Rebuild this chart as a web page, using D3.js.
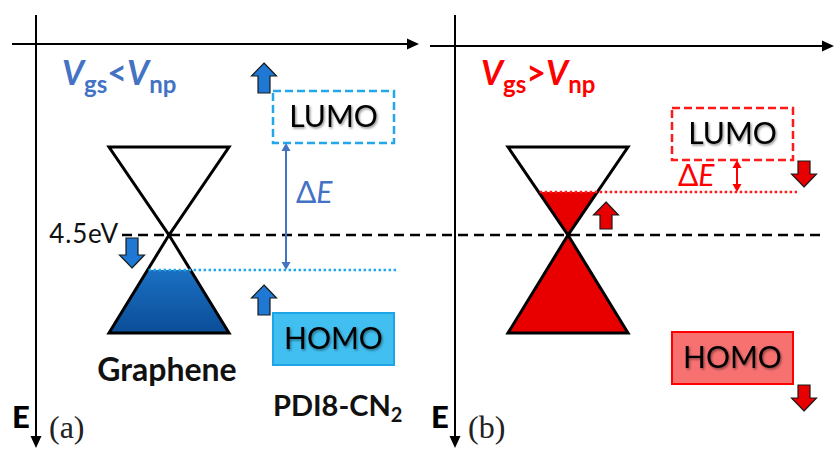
<!DOCTYPE html>
<html>
<head>
<meta charset="utf-8">
<script src="https://cdn.jsdelivr.net/npm/d3@7"></script>
<style>
  html, body { margin: 0; padding: 0; background: #fff; }
  svg { display: block; }
</style>
</head>
<body>
<script>
// Band alignment of graphene and PDI8-CN2 under two gate-voltage regimes.
const panels = ["a", "b"];
const panelTags = ["(a)", "(b)"];
const gateRelations = ["<", ">"];          // Vgs relative to Vnp
const diracPoint = 4.5;                    // eV, graphene neutrality point
const referenceLabel = "4.5eV";
const fermiLevels = [4.85, 4.07];          // eV, graphene Fermi level
const lumoLevels = [3.58, 3.75];           // eV, PDI8-CN2 LUMO edge
const homoLevels = [5.28, 5.47];           // eV, PDI8-CN2 HOMO edge
const grapheneShift = ["down", "up"];
const lumoShift = ["up", "down"];
const homoShift = ["up", "down"];
const coneEnergies = [3.62, 5.48];         // eV, drawn extent of the Dirac cone
const materialNames = ["Graphene", "PDI8-CN"];
const materialSub = "2";

const W = 835, H = 449;
const svg = d3.select("body").append("svg").attr("width", W).attr("height", H);

// energy axis points downward
const y = d3.scaleLinear().domain([3, 6]).range([85, 385]);
const shiftX = d3.scaleOrdinal().domain(panels).range([0, 399]);
const axisX = d3.scaleOrdinal().domain(panels).range([36, 455]);
const axisY = d3.scaleOrdinal().domain(panels).range([44, 46]);
const axisSpan = d3.scaleOrdinal().domain(panels).range([[12, 419], [430, 834]]);

const theme = {
  a: { text: "#4472c4", line: "#4472c4", box: "#22a7ea", homoFill: "#41bff0", homoStroke: "#1ea5e8",
       arrow: "#1f79d4", dots: "#22a7ea", fill: "url(#blueFill)" },
  b: { text: "#ff0000", line: "#ff0000", box: "#ff1a1a", homoFill: "#f87171", homoStroke: "#ff0000",
       arrow: "#e80000", dots: "#ff1a1a", fill: "#e80000" }
};

const defs = svg.append("defs");
const grad = defs.append("linearGradient").attr("id", "blueFill")
  .attr("x1", 0).attr("y1", 0).attr("x2", 0).attr("y2", 1);
grad.append("stop").attr("offset", "0%").attr("stop-color", "#2383da");
grad.append("stop").attr("offset", "100%").attr("stop-color", "#0b4d98");
const shadow = defs.append("filter").attr("id", "soft").attr("x", "-20%").attr("y", "-30%")
  .attr("width", "140%").attr("height", "160%");
shadow.append("feDropShadow").attr("dx", 1.2).attr("dy", 1.5).attr("stdDeviation", 1.2)
  .attr("flood-color", "#000").attr("flood-opacity", 0.45);

const sans = "Lato, 'Open Sans', sans-serif";

// block arrow pointing up or down, spanning y0..y1
function blockArrow(g, cx, y0, y1, dir, color) {
  const w = 25, sw = 12, hh = 13;
  let pts;
  if (dir === "up") {
    pts = [[cx, y0], [cx + w / 2, y0 + hh], [cx + sw / 2, y0 + hh], [cx + sw / 2, y1],
           [cx - sw / 2, y1], [cx - sw / 2, y0 + hh], [cx - w / 2, y0 + hh]];
  } else {
    pts = [[cx, y1], [cx + w / 2, y1 - hh], [cx + sw / 2, y1 - hh], [cx + sw / 2, y0],
           [cx - sw / 2, y0], [cx - sw / 2, y1 - hh], [cx - w / 2, y1 - hh]];
  }
  g.append("path").attr("d", d3.line()(pts) + "Z")
    .attr("fill", color).attr("stroke", "#1a1a1a").attr("stroke-width", 1.2)
    .attr("stroke-linejoin", "miter");
}

// thin double-headed arrow between two energies
function spanArrow(g, x, ya, yb, color) {
  const hl = 8, hw = 4.5;
  g.append("line").attr("x1", x).attr("x2", x).attr("y1", ya + 2).attr("y2", yb - 2)
    .attr("stroke", color).attr("stroke-width", 2);
  g.append("path").attr("d", d3.line()([[x, ya], [x - hw, ya + hl], [x + hw, ya + hl]]) + "Z").attr("fill", color);
  g.append("path").attr("d", d3.line()([[x, yb], [x - hw, yb - hl], [x + hw, yb - hl]]) + "Z").attr("fill", color);
}

// axes
panels.forEach((p, i) => {
  const ax = axisX(p), ay = axisY(p), [xs, xe] = axisSpan(p);
  svg.append("line").attr("x1", xs).attr("x2", xe - 10).attr("y1", ay).attr("y2", ay)
    .attr("stroke", "#000").attr("stroke-width", 2);
  svg.append("path").attr("d", d3.line()([[xe, ay], [xe - 12, ay - 5.5], [xe - 12, ay + 5.5]]) + "Z").attr("fill", "#000");
  svg.append("line").attr("x1", ax).attr("x2", ax).attr("y1", 15).attr("y2", 437)
    .attr("stroke", "#000").attr("stroke-width", 2);
  svg.append("path").attr("d", d3.line()([[ax, 448], [ax - 5.5, 436], [ax + 5.5, 436]]) + "Z").attr("fill", "#000");

  svg.append("text").attr("x", ax - 24).attr("y", 428).attr("font-family", sans)
    .attr("font-weight", 900).attr("font-size", 31).text("E");
  svg.append("text").attr("x", ax + 13).attr("y", 438)
    .attr("font-family", "'Liberation Serif', 'DejaVu Serif', serif")
    .attr("font-size", 32).attr("fill", "#222").text(panelTags[i]);
});

// neutrality-point reference line
svg.append("line").attr("x1", 122).attr("x2", 820).attr("y1", y(diracPoint)).attr("y2", y(diracPoint))
  .attr("stroke", "#000").attr("stroke-width", 2.5).attr("stroke-dasharray", "10,6");
svg.append("text").attr("x", 119).attr("y", y(diracPoint) + 8).attr("text-anchor", "end")
  .attr("font-family", sans).attr("font-size", 26).attr("letter-spacing", 0.8).attr("fill", "#111")
  .text(referenceLabel);

panels.forEach((p, i) => {
  const t = theme[p];
  const g = svg.append("g").attr("transform", `translate(${shiftX(p)},0)`);
  const ax = axisX(p) - shiftX(p);

  // gate condition label
  const cond = g.append("text").attr("x", ax + 26).attr("y", 85)
    .attr("font-family", sans).attr("font-weight", 700).attr("fill", t.text).attr("font-size", 34);
  cond.append("tspan").attr("font-style", "italic").text("V");
  cond.append("tspan").attr("font-size", 24).attr("dy", 8).text("gs");
  cond.append("tspan").attr("dy", -8).text(gateRelations[i]);
  cond.append("tspan").attr("font-style", "italic").text("V");
  cond.append("tspan").attr("font-size", 24).attr("dy", 8).text("np");

  // Dirac cone
  const cx = 169, hw = 60;
  const yTop = y(coneEnergies[0]), yD = y(diracPoint), yBot = y(coneEnergies[1]);
  const upper = [[cx - hw, yTop], [cx + hw, yTop], [cx, yD]];
  const lower = [[cx, yD], [cx - hw, yBot], [cx + hw, yBot]];
  const yF = y(fermiLevels[i]);
  const clipId = "fill-" + p;
  defs.append("clipPath").attr("id", clipId).append("rect")
    .attr("x", cx - hw - 5).attr("y", yF).attr("width", 2 * hw + 10).attr("height", yBot - yF + 5);
  const filled = g.append("g").attr("clip-path", `url(#${clipId})`);
  [upper, lower].forEach(tri => {
    filled.append("path").attr("d", d3.line()(tri) + "Z").attr("fill", t.fill);
  });
  [upper, lower].forEach(tri => {
    g.append("path").attr("d", d3.line()(tri) + "Z").attr("fill", "none")
      .attr("stroke", "#000").attr("stroke-width", 3).attr("stroke-linejoin", "miter");
  });

  // Fermi level, running out to the molecular levels
  const halfAtF = hw * Math.abs(yF - yD) / Math.abs((yF > yD ? yBot : yTop) - yD);
  const boxL = 273, boxW = 121, boxH = 52;
  g.append("line").attr("x1", cx - halfAtF + 1).attr("x2", boxL + boxW + 4).attr("y1", yF).attr("y2", yF)
    .attr("stroke", t.dots).attr("stroke-width", 2.5).attr("stroke-dasharray", "2.5,2.5");

  // LUMO (dashed outline) and HOMO (filled) boxes
  const yL = y(lumoLevels[i]), yH = y(homoLevels[i]);
  g.append("rect").attr("x", boxL).attr("y", yL - boxH).attr("width", boxW).attr("height", boxH)
    .attr("fill", "#fff").attr("stroke", t.box).attr("stroke-width", 2.5).attr("stroke-dasharray", "8,4");
  g.append("text").attr("x", boxL + boxW / 2).attr("y", yL - boxH / 2 + 10).attr("text-anchor", "middle")
    .attr("font-family", sans).attr("font-size", 30).attr("fill", "#000").attr("filter", "url(#soft)").text("LUMO");
  g.append("rect").attr("x", boxL).attr("y", yH).attr("width", boxW).attr("height", boxH)
    .attr("fill", t.homoFill).attr("stroke", t.homoStroke).attr("stroke-width", 2);
  g.append("text").attr("x", boxL + boxW / 2).attr("y", yH + boxH / 2 + 10).attr("text-anchor", "middle")
    .attr("font-family", sans).attr("font-size", 30).attr("fill", "#000").attr("filter", "url(#soft)").text("HOMO");

  // energy offset between LUMO and Fermi level
  const dx = i === 0 ? 286 : 338;
  spanArrow(g, dx, yL, yF, t.line);
  const de = g.append("text").attr("font-family", sans).attr("font-size", 30).attr("fill", t.text)
    .attr("x", i === 0 ? 296 : 279).attr("y", i === 0 ? 203 : 186);
  de.append("tspan").text("\u0394");
  de.append("tspan").attr("font-style", "italic").text("E");

  // shift directions
  if (grapheneShift[i] === "down") blockArrow(g, cx - 37, yF - 32, yF - 2, "down", t.arrow);
  else blockArrow(g, cx + 38, yF + 10, yF + 37, "up", t.arrow);
  [[lumoShift[i], yL - boxH, yL], [homoShift[i], yH, yH + boxH]].forEach(([dir, bt, bb]) => {
    if (dir === "up") blockArrow(g, boxL - 9, bt - 28, bt + 2, "up", t.arrow);
    else blockArrow(g, boxL + boxW + 11, bb + 1, bb + 27, "down", t.arrow);
  });
});

// material names
svg.append("text").attr("x", 167).attr("y", 381).attr("text-anchor", "middle")
  .attr("font-family", sans).attr("font-weight", 700).attr("font-size", 32).attr("fill", "#111")
  .text(materialNames[0]);
const pdi = svg.append("text").attr("x", 273).attr("y", 416)
  .attr("font-family", sans).attr("font-weight", 700).attr("font-size", 29).attr("fill", "#111");
pdi.append("tspan").text(materialNames[1]);
pdi.append("tspan").attr("font-size", 20).attr("dy", 6).text(materialSub);
</script>
</body>
</html>
